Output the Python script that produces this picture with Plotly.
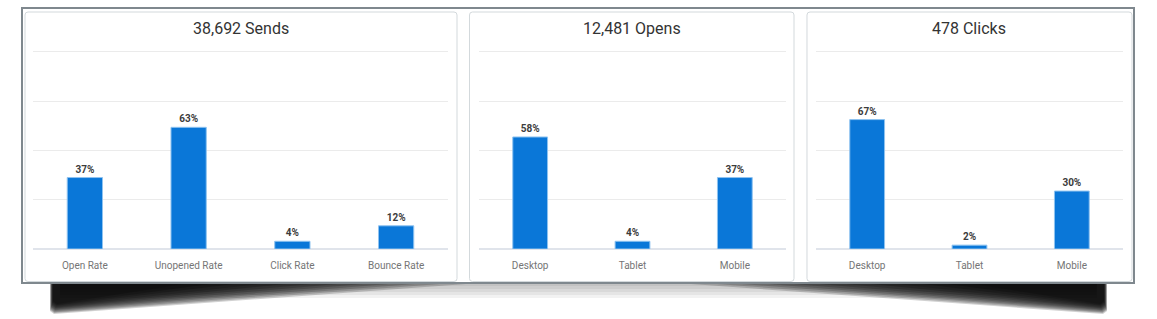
import plotly.graph_objects as go

# ---------------- data ----------------
totals = ["38,692", "12,481", "478"]
panel_names = ["Sends", "Opens", "Clicks"]

send_cats = ["Open Rate", "Unopened Rate", "Click Rate", "Bounce Rate"]
send_vals = [0.37, 0.63, 0.04, 0.12]

open_cats = ["Desktop", "Tablet", "Mobile"]
open_vals = [0.58, 0.04, 0.37]

click_cats = ["Desktop", "Tablet", "Mobile"]
click_vals = [0.67, 0.02, 0.30]

# ---------------- layout helpers ----------------
W, H = 1157, 319


def px(x):
    return x / W


def py(y):
    return 1 - y / H


def poly(points):
    return "M " + " L ".join(f"{px(x):.5f},{py(y):.5f}" for x, y in points) + " Z"


def rrect(x0, y0, x1, y1, r):
    rx, ry = r / W, r / H
    X0, X1, Y0, Y1 = px(x0), px(x1), py(y0), py(y1)  # Y0 top (higher), Y1 bottom
    return (f"M {X0+rx:.5f},{Y0:.5f} L {X1-rx:.5f},{Y0:.5f} Q {X1:.5f},{Y0:.5f} {X1:.5f},{Y0-ry:.5f} "
            f"L {X1:.5f},{Y1+ry:.5f} Q {X1:.5f},{Y1:.5f} {X1-rx:.5f},{Y1:.5f} "
            f"L {X0+rx:.5f},{Y1:.5f} Q {X0:.5f},{Y1:.5f} {X0:.5f},{Y1+ry:.5f} "
            f"L {X0:.5f},{Y0-ry:.5f} Q {X0:.5f},{Y0:.5f} {X0+rx:.5f},{Y0:.5f} Z")


BAR = "#0a77d8"
BAR_EDGE = "#8fc3f0"

fig = go.Figure()

series = [(send_cats, send_vals), (open_cats, open_vals), (click_cats, click_vals)]
plot_x = [(33, 448), (479, 786), (816, 1123)]
y_bottom, y_grid_top = 249, 52
ymax = 1.02          # value of the top gridline
extra = 0.02         # headroom so the top gridline is not clipped at the plot edge
y_top = y_grid_top - extra * (y_bottom - y_grid_top) / ymax
grid_vals = [ymax * k / 4 for k in range(5)]

for i, (cats, vals) in enumerate(series):
    suffix = "" if i == 0 else str(i + 1)
    fig.add_trace(go.Bar(
        x=cats, y=vals,
        xaxis="x" + suffix, yaxis="y" + suffix,
        marker=dict(color=BAR, line=dict(color=BAR_EDGE, width=1)),
        texttemplate="%{y:.0%}", textposition="outside",
        textfont=dict(family="Roboto", size=10, color="#3c3c3c", weight="bold"),
        constraintext="none", cliponaxis=False,
        showlegend=False, hoverinfo="skip",
    ))
    xa = dict(domain=[px(plot_x[i][0]), px(plot_x[i][1])], anchor="y" + suffix,
              showgrid=False, showline=False, zeroline=False,
              ticks="outside", ticklen=7, tickcolor="rgba(0,0,0,0)",
              tickfont=dict(family="Roboto", size=10, color="#757575"),
              fixedrange=True)
    ya = dict(domain=[py(y_bottom), py(y_top)], anchor="x" + suffix,
              range=[0, ymax + extra], tickmode="array", tickvals=grid_vals,
              showticklabels=False, showgrid=True, gridcolor="#ebebeb", gridwidth=1,
              zeroline=True, zerolinecolor="#e0e4eb", zerolinewidth=2,
              showline=False, fixedrange=True)
    fig.layout["xaxis" + suffix] = xa
    fig.layout["yaxis" + suffix] = ya

shapes = []

# ---- curved drop shadow beneath the frame ----
K = 12
for k in range(K):
    t = k / (K - 1)
    xl = 50 + 3 * t
    dl = 31 - 10 * t
    xe = 480 - 290 * t
    pts_l = [(xl, 278), (xl, 283 + dl - 3), (xl + 4, 283 + dl), (xe, 283)]
    pts_r = [(W - x, y) for x, y in pts_l]
    for pts in (pts_l, pts_r):
        shapes.append(dict(type="path", path=poly(pts), xref="paper", yref="paper",
                           fillcolor="black", opacity=0.18, line=dict(width=0), layer="below"))
for k in range(5):
    d = 3 + 3 * k
    pts = [(60, 278), (60, 283 + d), (W - 60, 283 + d), (W - 60, 278)]
    shapes.append(dict(type="path", path=poly(pts), xref="paper", yref="paper",
                       fillcolor="black", opacity=0.05, line=dict(width=0), layer="below"))

# ---- outer frame ----
shapes.append(dict(type="rect", xref="paper", yref="paper",
                   x0=px(22), x1=px(1134), y0=py(283), y1=py(8),
                   fillcolor="white", line=dict(color="#7f888e", width=2), layer="below"))

# ---- panels ----
panels = [(25, 457), (469.5, 794), (807, 1132)]
for x0, x1 in panels:
    shapes.append(dict(type="path", path=rrect(x0, 12, x1, 281.5, 3), xref="paper", yref="paper",
                       fillcolor="white", line=dict(color="#d3d9dc", width=1), layer="below"))

annotations = []
for (x0, x1), tot, name in zip(panels, totals, panel_names):
    annotations.append(dict(text=f"{tot} {name}", x=px((x0 + x1) / 2), y=py(28.5),
                            xref="paper", yref="paper", xanchor="center", yanchor="middle",
                            showarrow=False,
                            font=dict(family="Roboto", size=16, color="#333333")))

fig.update_layout(
    width=W, height=H, autosize=False,
    margin=dict(l=0, r=0, t=0, b=0),
    paper_bgcolor="white", plot_bgcolor="rgba(0,0,0,0)",
    bargap=0.66,
    shapes=shapes, annotations=annotations,
    font=dict(family="Roboto"),
)

fig.write_html("out.html", config=dict(displayModeBar=False))
